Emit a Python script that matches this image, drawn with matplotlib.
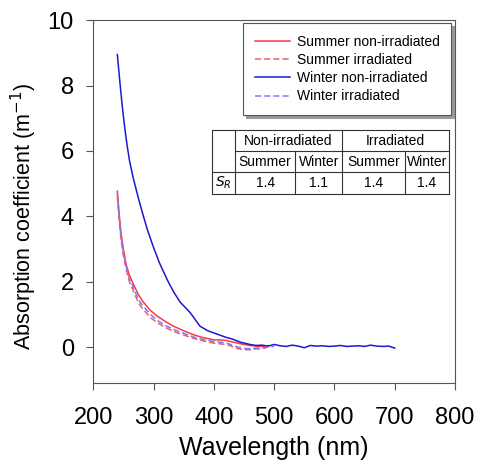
import matplotlib
matplotlib.use("Agg")
import matplotlib.pyplot as plt

plt.rcParams['font.family'] = ['Liberation Sans', 'DejaVu Sans']

# wavelengths (nm) and absorption coefficients (m^-1)
wl_summer = [240, 243, 246, 250, 255, 260, 266, 275, 283, 295, 306, 320, 333, 350, 366,
             380, 390, 400, 410, 422, 430, 440, 450, 460, 470, 480, 490]
summer_non = [4.77, 4.1, 3.5, 3.0, 2.5, 2.2, 1.95, 1.6, 1.38, 1.12, 0.95, 0.78, 0.64, 0.5, 0.38,
              0.3, 0.26, 0.22, 0.22, 0.2, 0.16, 0.12, 0.08, 0.05, 0.03, 0.02, 0.03]
summer_irr = [4.6, 3.9, 3.3, 2.8, 2.35, 2.0, 1.75, 1.35, 1.15, 0.9, 0.75, 0.6, 0.48, 0.37, 0.27,
              0.2, 0.16, 0.12, 0.1, 0.08, 0.02, -0.05, -0.08, -0.08, -0.06, -0.05, 0.0]

wl_winter_irr = [240, 243, 246, 250, 255, 260, 266, 275, 283, 295, 306, 320, 333, 350, 366,
                 380, 390, 400, 410, 422, 430, 440, 450, 460, 470, 480, 490, 500]
winter_irr = [4.7, 4.0, 3.4, 2.9, 2.45, 2.1, 1.85, 1.45, 1.25, 1.0, 0.82, 0.66, 0.54, 0.42, 0.31,
              0.24, 0.2, 0.17, 0.15, 0.12, 0.06, 0.0, -0.04, -0.05, -0.03, -0.02, 0.0, 0.02]

wl_winter = [240, 244, 248, 252, 256, 260, 266, 275, 283, 290, 300, 310, 323, 333, 344, 361,
             370, 377, 390, 405, 420, 430, 444, 460, 470, 480, 490, 500, 510, 520, 530, 540,
             550, 560, 570, 580, 590, 600, 610, 620, 630, 640, 650, 660, 670, 680, 690, 700]
winter_non = [8.95, 8.15, 7.4, 6.75, 6.2, 5.72, 5.2, 4.55, 4.02, 3.58, 3.05, 2.57, 2.05, 1.7, 1.38, 1.05,
              0.82, 0.64, 0.5, 0.4, 0.3, 0.25, 0.15, 0.08, 0.05, 0.06, 0.03, 0.08, 0.04, 0.02, 0.06, 0.03,
              -0.02, 0.05, 0.03, 0.04, 0.02, 0.03, 0.05, 0.02, 0.03, 0.04, 0.02, 0.06, 0.03, 0.02, 0.03, -0.03]

# S_R table
groups = ['Non-irradiated', 'Irradiated']
seasons = ['Summer', 'Winter', 'Summer', 'Winter']
sr_values = ['1.4', '1.1', '1.4', '1.4']

fig = plt.figure(figsize=(4.78, 4.70), dpi=100)
ax = fig.add_axes([0.195, 0.185, 0.757, 0.772])

ax.plot(wl_summer, summer_non, color='#ff3b3b', lw=1.1, label='Summer non-irradiated')
ax.plot(wl_summer, summer_irr, color='#e8606a', lw=1.1, ls=(0, (4, 2)), label='Summer irradiated')
ax.plot(wl_winter, winter_non, color='#1a1acc', lw=1.1, label='Winter non-irradiated')
ax.plot(wl_winter_irr, winter_irr, color='#7a7aff', lw=1.1, ls=(0, (4, 2)), label='Winter irradiated')

ax.set_xlim(200, 800)
ax.set_ylim(-1.1, 10)
ax.set_xticks(range(200, 801, 100))
ax.set_yticks(range(0, 11, 2))
ax.tick_params(direction='out', length=5, labelsize=17, color='#555555')
ax.tick_params(axis='x', pad=12)
ax.tick_params(axis='y', pad=9)
for s in ax.spines.values():
    s.set_color('#555555')
ax.set_xlabel('Wavelength (nm)', fontsize=18, labelpad=5)
ax.set_ylabel('Absorption coefficient (m$^{-1}$)', fontsize=15.5)
ax.yaxis.set_label_coords(-0.15, 0.46)

leg = ax.legend(loc='upper right', bbox_to_anchor=(0.99, 0.992), fontsize=10, frameon=True,
                fancybox=False, shadow={'color': '#999999', 'alpha': 1}, handlelength=2.5,
                handletextpad=0.5, labelspacing=0.3, borderpad=0.85, borderaxespad=0)
leg.get_frame().set_edgecolor('#555555')
leg.get_frame().set_linewidth(0.8)
leg.get_frame().set_alpha(1)

# table drawn in axes coordinates
tr = ax.transAxes
xs = [0.329, 0.392, 0.558, 0.688, 0.862, 0.983]
ys = [0.697, 0.639, 0.581, 0.521]
lc = '#333333'
kw = dict(transform=tr, color=lc, lw=0.8)
ax.plot([xs[0], xs[-1]], [ys[0], ys[0]], **kw)
ax.plot([xs[1], xs[-1]], [ys[1], ys[1]], **kw)
ax.plot([xs[0], xs[-1]], [ys[2], ys[2]], **kw)
ax.plot([xs[0], xs[-1]], [ys[3], ys[3]], **kw)
for i, x in enumerate(xs):
    if i in (0, 1, 3, 5):
        ax.plot([x, x], [ys[0], ys[3]], **kw)
    else:
        ax.plot([x, x], [ys[1], ys[3]], **kw)

fs = 10
ax.text((xs[1] + xs[3]) / 2, (ys[0] + ys[1]) / 2, groups[0], transform=tr, fontsize=fs,
        ha='center', va='center')
ax.text((xs[3] + xs[5]) / 2, (ys[0] + ys[1]) / 2, groups[1], transform=tr, fontsize=fs,
        ha='center', va='center')
for i, (s, v) in enumerate(zip(seasons, sr_values)):
    cx = (xs[i + 1] + xs[i + 2]) / 2
    ax.text(cx, (ys[1] + ys[2]) / 2, s, transform=tr, fontsize=fs, ha='center', va='center')
    ax.text(cx, (ys[2] + ys[3]) / 2, v, transform=tr, fontsize=fs, ha='center', va='center')
ax.text((xs[0] + xs[1]) / 2, (ys[2] + ys[3]) / 2, '$S_R$', transform=tr, fontsize=fs,
        ha='center', va='center', math_fontfamily='dejavusans')

fig.savefig('out.png', dpi=100)
